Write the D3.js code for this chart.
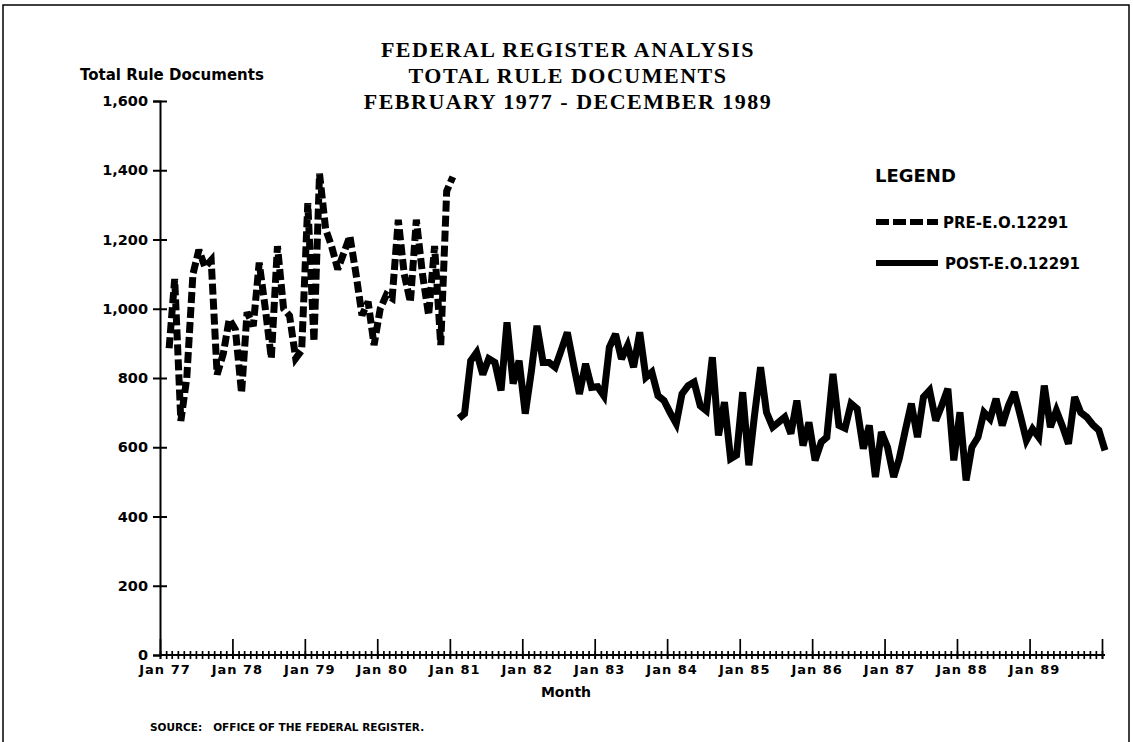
<!DOCTYPE html>
<html><head><meta charset="utf-8">
<script src="https://cdn.jsdelivr.net/npm/d3@7"></script>
<style>body{margin:0;background:#fff}svg{display:block}</style>
</head><body><svg id="c" width="1133" height="742"></svg>
<script>
// ---------- data ----------
const titleLines = ["FEDERAL REGISTER ANALYSIS", "TOTAL RULE DOCUMENTS", "FEBRUARY 1977 - DECEMBER 1989"];
const yAxisTitle = "Total Rule Documents";
const xAxisTitle = "Month";
const sourceText = "SOURCE:   OFFICE OF THE FEDERAL REGISTER.";
const legendTitle = "LEGEND";
const seriesNames = ["PRE-E.O.12291", "POST-E.O.12291"];
const yTicks = [0, 200, 400, 600, 800, 1000, 1200, 1400, 1600];
const yearLabels = ["Jan 77","Jan 78","Jan 79","Jan 80","Jan 81","Jan 82","Jan 83","Jan 84","Jan 85","Jan 86","Jan 87","Jan 88","Jan 89"];
const axisStart = "1977-01";
const axisEnd = "1990-01";
const preStart = "1977-02";   // Feb 1977 .. Jan 1981
const preValues = [
  886,1086,676,800,1100,1170,1120,1140,810,870,970,940,
  757,990,950,1133,1000,857,1181,1000,980,857,880,1305,
  905,1390,1230,1180,1114,1160,1210,1100,981,1020,895,1000,
  1040,1030,1257,1100,1019,1257,1100,981,1181,895,1340,1381
];
const postStart = "1981-02";  // Feb 1981 .. Dec 1989
const postValues = [
  684,697,850,874,810,856,845,764,961,784,850,
  697,820,951,845,845,831,880,932,840,754,841,773,
  775,749,889,927,855,894,831,932,802,817,749,735,
  700,668,754,778,788,720,706,860,634,730,567,577,
  759,548,690,831,701,658,672,687,639,735,605,672,
  562,615,629,812,663,655,726,711,596,663,514,644,
  600,514,567,650,726,629,745,764,677,720,769,562,
  701,504,600,629,701,682,740,663,720,759,690,620,
  653,629,778,658,706,660,610,745,700,687,665,649,591
];

// ---------- layout ----------
const parseM = d3.timeParse("%Y-%m");
const svg = d3.select("#c");
const X0 = 160, X1 = 1102, Y0 = 655, Y1 = 101;
const SANS = "DejaVu Sans, sans-serif";

const x = d3.scaleTime().domain([parseM(axisStart), parseM(axisEnd)]).range([X0, X1]);
const y = d3.scaleLinear().domain([0, 1600]).range([Y0, Y1]);

// values are plotted at mid-month
const mid = (start, i) => d3.timeDay.offset(d3.timeMonth.offset(parseM(start), i), 15);
const pre = preValues.map((v, i) => ({d: mid(preStart, i), v}));
const post = postValues.map((v, i) => ({d: mid(postStart, i), v}));

// border frame
svg.append("rect").attr("x", 3).attr("y", 5).attr("width", 1126).attr("height", 760)
  .attr("fill", "none").attr("stroke", "#000").attr("stroke-width", 1.5);

// title
svg.append("g").selectAll("text").data(titleLines).join("text")
  .attr("x", 568).attr("y", (d, i) => 57 + i * 26)
  .attr("text-anchor", "middle")
  .attr("font-family", "Liberation Serif, serif").attr("font-weight", "bold")
  .attr("font-size", 22).attr("letter-spacing", 1.5).text(d => d);

// y axis
const yl = svg.append("g").attr("transform", `translate(${X0},0)`)
  .call(d3.axisLeft(y).tickValues(yTicks).tickFormat(d3.format(",")).tickSize(7).tickPadding(5));
yl.select(".domain").attr("stroke-width", 2);
yl.selectAll(".tick line").attr("stroke-width", 2);
yl.selectAll("text").attr("font-family", SANS)
  .attr("font-size", 14.5).attr("font-weight", "bold").attr("fill", "#000");
const yr = svg.append("g").attr("transform", `translate(${X0},0)`)
  .call(d3.axisRight(y).tickValues(yTicks.filter(t => t > 0)).tickSize(7).tickFormat(""));
yr.select(".domain").remove();
yr.selectAll(".tick line").attr("stroke-width", 2);

svg.append("text").attr("x", 80).attr("y", 80)
  .attr("font-family", SANS).attr("font-size", 15)
  .attr("font-weight", "bold").text(yAxisTitle);

// x axis: monthly minor ticks crossing the axis
const months = d3.timeMonth.range(parseM(axisStart), d3.timeMonth.offset(parseM(axisEnd), 1));
const xm = svg.append("g").attr("transform", `translate(0,${Y0 - 4})`)
  .call(d3.axisBottom(x).tickValues(months).tickSize(8).tickFormat(""));
xm.select(".domain").remove();
xm.selectAll(".tick line").attr("stroke-width", 1.7);

const years = d3.timeYear.range(parseM(axisStart), d3.timeMonth.offset(parseM(axisEnd), 1));
const xM = svg.append("g").attr("transform", `translate(0,${Y0 - 16})`)
  .call(d3.axisBottom(x).tickValues(years).tickSize(20).tickFormat(""));
xM.select(".domain").remove();
xM.selectAll(".tick line").attr("stroke-width", 1.7);

svg.append("line").attr("x1", X0).attr("x2", X1 + 3).attr("y1", Y0).attr("y2", Y0)
  .attr("stroke", "#000").attr("stroke-width", 2);

const labelYears = years.slice(0, yearLabels.length);
svg.append("g").selectAll("text").data(labelYears).join("text")
  .attr("x", d => x(d) + 5).attr("y", Y0 + 19).attr("text-anchor", "middle")
  .attr("font-family", SANS).attr("font-size", 13).attr("letter-spacing", 1)
  .attr("font-weight", "bold").text((d, i) => yearLabels[i]);

svg.append("text").attr("x", 566).attr("y", 697).attr("text-anchor", "middle")
  .attr("font-family", SANS).attr("font-size", 14)
  .attr("font-weight", "bold").text(xAxisTitle);

svg.append("text").attr("x", 150).attr("y", 731).attr("xml:space", "preserve")
  .attr("font-family", SANS).attr("font-size", 10.5)
  .attr("font-weight", "bold").text(sourceText);

// lines
const line = d3.line().x(d => x(d.d)).y(d => y(d.v));
svg.append("path").datum(pre).attr("d", line).attr("fill", "none")
  .attr("stroke", "#000").attr("stroke-width", 7).attr("stroke-dasharray", "11,4")
  .attr("stroke-linejoin", "miter").attr("stroke-miterlimit", 3);
svg.append("path").datum(post).attr("d", line).attr("fill", "none")
  .attr("stroke", "#000").attr("stroke-width", 7)
  .attr("stroke-linejoin", "miter").attr("stroke-miterlimit", 3);

// legend
const lg = svg.append("g");
lg.append("text").attr("x", 875).attr("y", 182)
  .attr("font-family", SANS).attr("font-size", 18)
  .attr("font-weight", "bold").text(legendTitle);
const legY = [222, 263];
lg.selectAll("line.k").data(seriesNames).join("line")
  .attr("x1", 876).attr("x2", 938).attr("y1", (d, i) => legY[i]).attr("y2", (d, i) => legY[i])
  .attr("stroke", "#000").attr("stroke-width", 6)
  .attr("stroke-dasharray", (d, i) => i === 0 ? "13,4" : null);
lg.selectAll("text.s").data(seriesNames).join("text")
  .attr("x", (d, i) => i === 0 ? 943 : 945).attr("y", (d, i) => legY[i] + 5.5)
  .attr("font-family", SANS).attr("font-size", 15)
  .attr("font-weight", "bold").text(d => d);
</script></body></html>
